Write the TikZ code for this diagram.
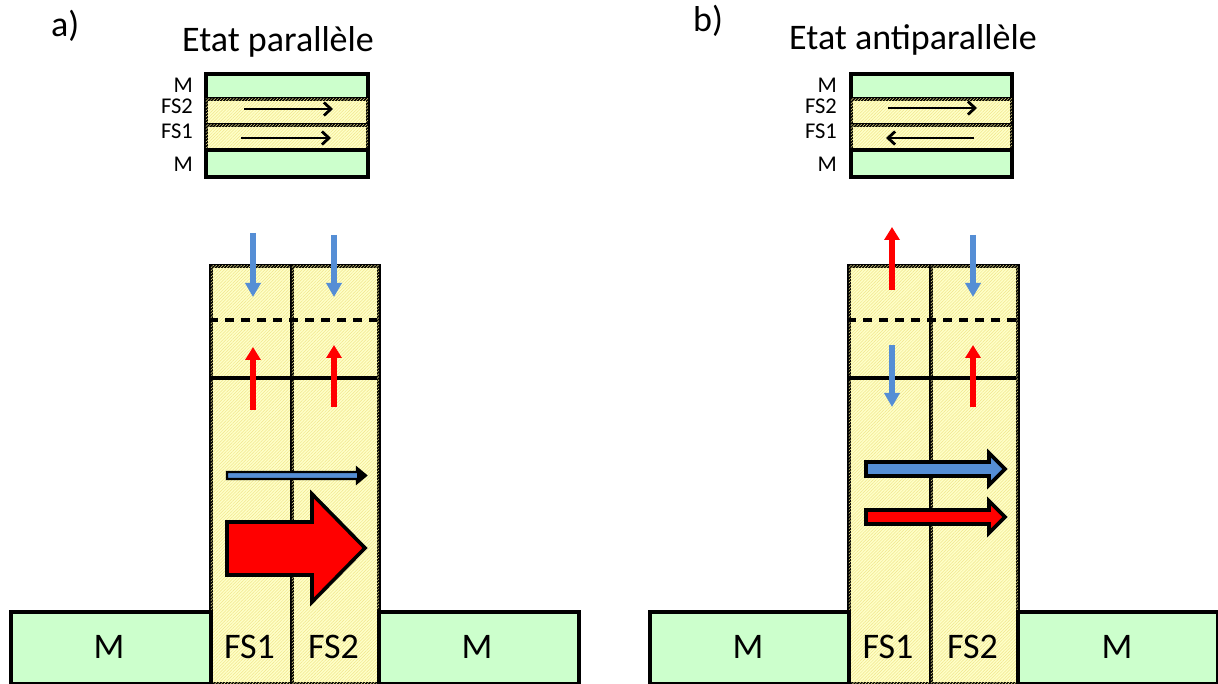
\documentclass[tikz,border=0pt]{standalone}
\usepackage{fontspec}
\setmainfont{Carlito}
\usetikzlibrary{arrows.meta,patterns.meta}
\definecolor{mgreen}{HTML}{CCFFCC}
\definecolor{fsyellow}{HTML}{FFFFC8}
\definecolor{hatchc}{HTML}{F0E68C}
\definecolor{spinblue}{HTML}{558ED5}
\definecolor{spinred}{HTML}{FF0000}
\tikzset{
  border/.style={draw=black, line width=3.6pt},
  mbox/.style={border, fill=mgreen, rectangle, inner sep=0pt, anchor=north west},
  fsbox/.style={border, fill=fsyellow, rectangle, inner sep=0pt, anchor=north west,
    postaction={pattern={Lines[angle=45,distance=2.2pt,line width=0.5pt]}, pattern color=hatchc}},
  bigtxt/.style={font=\fontsize{36}{40}\selectfont, inner sep=0pt},
  smalltxt/.style={font=\fontsize{22.5}{26}\selectfont, inner sep=0pt, anchor=base east},
  bluespin/.style={draw=spinblue, line width=5.5pt, -{Triangle[width=15pt,length=14pt]}},
  redspin/.style={draw=spinred, line width=5.5pt, -{Triangle[width=15pt,length=13pt]}},
  magarrow/.style={draw=black, line width=2.8pt, -{Straight Barb[length=7pt,width=13pt]}},
  divsolid/.style={draw=black, line width=3.4pt},
  divdash/.style={draw=black, line width=3.4pt, dash pattern=on 9pt off 7pt},
  fatarrow/.style={draw=black, line width=3.6pt, line join=miter},
}
\begin{document}
\begin{tikzpicture}[x=1pt,y=-1pt]
\useasboundingbox (0,0) rectangle (1218,684);

% ================= panel a =================
\node[bigtxt, anchor=base west] (la) at (51,37) {a)};
\node[bigtxt, anchor=base] (ta) at (278,52) {Etat parallèle};

% small stack
\node[mbox, minimum width=162pt, minimum height=25pt] (aM1) at (204,72) {};
\node[fsbox, minimum width=162pt, minimum height=26pt] (aF2) at (204,97) {};
\node[fsbox, minimum width=162pt, minimum height=25pt] (aF1) at (204,123) {};
\node[mbox, minimum width=162pt, minimum height=27pt] (aM2) at (204,148) {};
\node[smalltxt] (aLM1) at (193,93) {M};
\node[smalltxt] (aLF2) at (193,114) {FS2};
\node[smalltxt] (aLF1) at (193,139) {FS1};
\node[smalltxt] (aLM2) at (193,172) {M};
\coordinate (aa1s) at (244,109); \coordinate (aa1e) at (333,109);
\coordinate (aa2s) at (241,138); \coordinate (aa2e) at (331,138);
\draw[magarrow] (aa1s) -- (aa1e);
\draw[magarrow] (aa2s) -- (aa2e);

% columns
\node[fsbox, minimum width=81pt, minimum height=418pt] (aC1) at (209,264) {};
\node[fsbox, minimum width=87pt, minimum height=418pt] (aC2) at (290,264) {};
\draw[divdash] (209,320) -- (377,320);
\draw[divsolid] (209,378) -- (377,378);

% bottom M boxes
\node[mbox, minimum width=200pt, minimum height=72pt] (aML) at (9,610) {};
\node[mbox, minimum width=200pt, minimum height=72pt] (aMR) at (377,610) {};
\node[bigtxt, anchor=base] (aTML) at (109,658) {M};
\node[bigtxt, anchor=base] (aTMR) at (477,658) {M};
\node[bigtxt, anchor=base] (aTF1) at (249.5,658) {FS1};
\node[bigtxt, anchor=base] (aTF2) at (333.5,658) {FS2};

% spin arrows
\coordinate (ab1s) at (253,233); \coordinate (ab1e) at (253,297);
\coordinate (ab2s) at (334,235); \coordinate (ab2e) at (334,297);
\coordinate (ar1s) at (253,410); \coordinate (ar1e) at (253,347);
\coordinate (ar2s) at (334,407); \coordinate (ar2e) at (334,345);
\draw[bluespin] (ab1s) -- (ab1e);
\draw[bluespin] (ab2s) -- (ab2e);
\draw[redspin] (ar1s) -- (ar1e);
\draw[redspin] (ar2s) -- (ar2e);

% thin arrow
\draw[draw=black, line width=2.2pt, fill=spinblue] (227,472) -- (357,472) -- (357,468) -- (366,475.5) -- (357,483) -- (357,479) -- (227,479) -- cycle;
\fill[black] (357,468) -- (366,475.5) -- (357,483) -- cycle;

% big red arrow
\draw[fatarrow, fill=spinred] (227,522) -- (312,522) -- (312,494) -- (365,548) -- (312,602) -- (312,575) -- (227,575) -- cycle;

% ================= panel b =================
\node[bigtxt, anchor=base west] (lb) at (693,32) {b)};
\node[bigtxt, anchor=base] (tb) at (913,50) {Etat antiparallèle};

\node[mbox, minimum width=161pt, minimum height=25pt] (bM1) at (849,72) {};
\node[fsbox, minimum width=161pt, minimum height=26pt] (bF2) at (849,97) {};
\node[fsbox, minimum width=161pt, minimum height=25pt] (bF1) at (849,123) {};
\node[mbox, minimum width=161pt, minimum height=27pt] (bM2) at (849,148) {};
\node[smalltxt] (bLM1) at (837,93) {M};
\node[smalltxt] (bLF2) at (837,114) {FS2};
\node[smalltxt] (bLF1) at (837,139) {FS1};
\node[smalltxt] (bLM2) at (837,172) {M};
\coordinate (ba1s) at (888,108); \coordinate (ba1e) at (977,108);
\coordinate (ba2s) at (974,138); \coordinate (ba2e) at (886,138);
\draw[magarrow] (ba1s) -- (ba1e);
\draw[magarrow] (ba2s) -- (ba2e);

\node[fsbox, minimum width=82pt, minimum height=418pt] (bC1) at (847,264) {};
\node[fsbox, minimum width=87pt, minimum height=418pt] (bC2) at (929,264) {};
\draw[divdash] (847,320) -- (1016,320);
\draw[divsolid] (847,378) -- (1016,378);

\node[mbox, minimum width=199pt, minimum height=72pt] (bML) at (648,610) {};
\node[mbox, minimum width=200pt, minimum height=72pt] (bMR) at (1016,610) {};
\node[bigtxt, anchor=base] (bTML) at (748,658) {M};
\node[bigtxt, anchor=base] (bTMR) at (1117,658) {M};
\node[bigtxt, anchor=base] (bTF1) at (888,658) {FS1};
\node[bigtxt, anchor=base] (bTF2) at (972.5,658) {FS2};

\coordinate (br1s) at (892,290); \coordinate (br1e) at (892,227);
\coordinate (bb1s) at (973,235); \coordinate (bb1e) at (973,297);
\coordinate (bb2s) at (892,345); \coordinate (bb2e) at (892,407);
\coordinate (br2s) at (973,407); \coordinate (br2e) at (973,345);
\draw[redspin] (br1s) -- (br1e);
\draw[bluespin] (bb1s) -- (bb1e);
\draw[bluespin] (bb2s) -- (bb2e);
\draw[redspin] (br2s) -- (br2e);

\draw[fatarrow, fill=spinblue] (866,462) -- (989,462) -- (989,453) -- (1005,469) -- (989,485) -- (989,476) -- (866,476) -- cycle;
\draw[fatarrow, fill=spinred] (866,510) -- (989,510) -- (989,501) -- (1005,517) -- (989,533) -- (989,524) -- (866,524) -- cycle;
\end{tikzpicture}
\end{document}
